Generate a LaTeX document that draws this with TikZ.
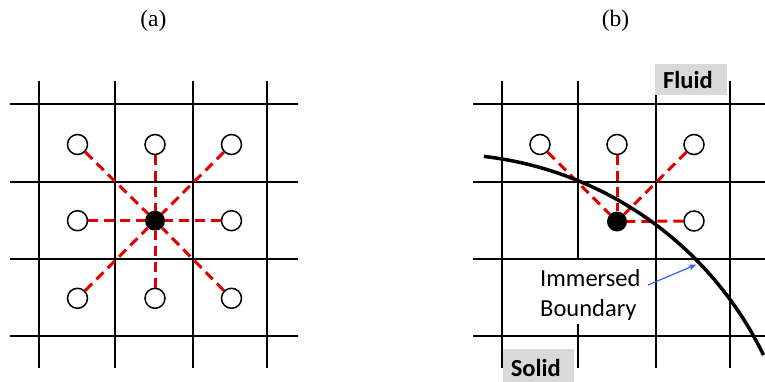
\documentclass[tikz,border=0pt]{standalone}
\usepackage{fontspec}
\setmainfont{Liberation Serif}
\newfontfamily\calibri{Carlito}
\usetikzlibrary{arrows.meta}
\definecolor{dashred}{RGB}{225,0,0}
\definecolor{labelgray}{RGB}{217,217,217}
\definecolor{arrowblue}{RGB}{51,95,255}
\begin{document}
\begin{tikzpicture}[x=1pt,y=-1pt,
  gridline/.style={line width=2pt,black},
  link/.style={dashred,line width=3pt,dash pattern=on 10pt off 6pt},
  openpt/.style={circle,draw,line width=1.5pt,fill=white,minimum size=20pt,inner sep=0pt},
  solidpt/.style={circle,fill=black,minimum size=20pt,inner sep=0pt},
  titletext/.style={font=\fontsize{23.5}{28}\selectfont,inner sep=0pt,anchor=base},
  tagtext/.style={font=\calibri\bfseries\fontsize{24.5}{29}\selectfont,inner sep=0pt,anchor=base west},
  ibtext/.style={font=\calibri\fontsize{24.5}{30}\selectfont,inner sep=0pt,align=left,anchor=base west}]
\useasboundingbox (0,0) rectangle (765,382);

% titles
\node[titletext] (ta) at (153.3,26.5) {(a)};
\node[titletext] (tb) at (615.5,26.5) {(b)};

% ---------- left grid ----------
\foreach \x in {39,115,193,267} \draw[gridline] (\x,81) -- (\x,368);
\foreach \y in {104,182.5,258.5,336} \draw[gridline] (10,\y) -- (298,\y);

\node[solidpt] (Lc) at (155,220.7) {};
\node[openpt] (L11) at (77.5,144.5) {};
\node[openpt] (L12) at (155,144.5) {};
\node[openpt] (L13) at (231.5,144.5) {};
\node[openpt] (L21) at (77.5,220.7) {};
\node[openpt] (L23) at (231.5,220.7) {};
\node[openpt] (L31) at (77.5,298.3) {};
\node[openpt] (L32) at (155,298.3) {};
\node[openpt] (L33) at (231.5,298.3) {};
\foreach \n in {L11,L12,L13,L21,L23,L31,L32,L33} \draw[link] (\n) -- (Lc);

% ---------- right grid ----------
\foreach \x in {502,656,729.5} \draw[gridline] (\x,81) -- (\x,368);
\draw[gridline] (577.5,81) -- (577.5,258.5);
\draw[gridline] (577.5,324) -- (577.5,368);
\foreach \y in {104,182.5,258.5,336} \draw[gridline] (473,\y) -- (765,\y);

\node[solidpt] (Rc) at (617,221.5) {};
\node[openpt] (R11) at (540,144.5) {};
\node[openpt] (R12) at (617,144.5) {};
\node[openpt] (R13) at (694,144.5) {};
\node[openpt] (R23) at (694,221) {};
\foreach \n in {R11,R12,R13,R23} \draw[link] (\n) -- (Rc);

% immersed boundary curve
\draw[line width=3.5pt] (483.9,156.4) arc[start angle=83.4,end angle=25.8,radius=356pt];

% labels
\fill[labelgray] (655,64.5) rectangle (727,95);
\node[tagtext] (fluid) at (663,88.3) {Fluid};
\fill[labelgray] (502.7,349.3) rectangle (574.3,382);
\node[tagtext] (solid) at (510.7,376.7) {Solid};

\node[ibtext] (ib) at (540,316) {Immersed\\Boundary};
\coordinate (ibfrom) at (648,285);
\coordinate (ibtip) at (696.5,264.5);
\draw[arrowblue,line width=1.2pt,-{Stealth[length=8pt,width=6pt]}] (ibfrom) -- (ibtip);
\end{tikzpicture}
\end{document}
